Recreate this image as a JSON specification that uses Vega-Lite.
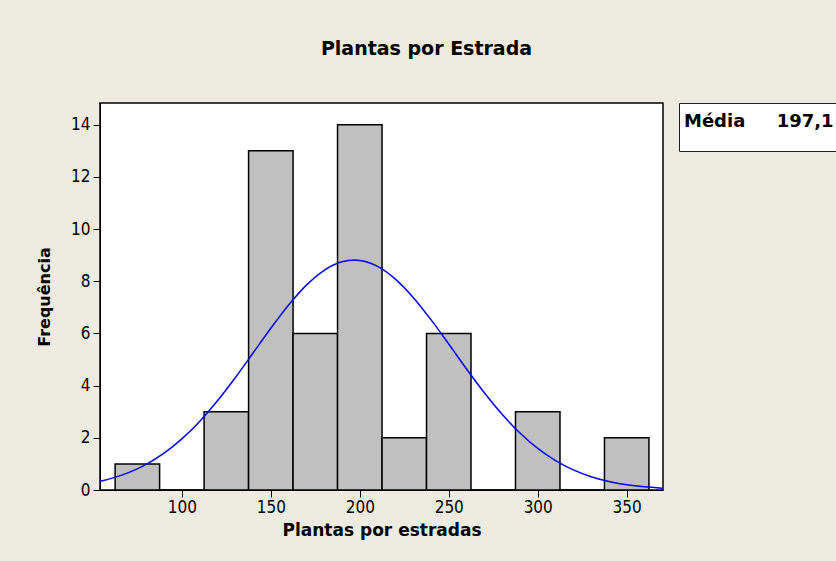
{
  "$schema": "https://vega.github.io/schema/vega-lite/v6.json",
  "width": 563,
  "height": 387,
  "autosize": {"type": "none"},
  "padding": {"left": 100, "top": 103, "right": 173, "bottom": 71},
  "background": "#EEEBE1",
  "title": {
    "text": "Plantas por Estrada",
    "font": "DejaVu Sans",
    "fontSize": 19,
    "fontWeight": "bold",
    "color": "#000000",
    "anchor": "middle",
    "frame": "group",
    "dx": 45,
    "baseline": "alphabetic",
    "offset": 29
  },
  "config": {
    "view": {"stroke": "#000000", "strokeWidth": 1.5, "fill": "#FFFFFF"},
    "axis": {
      "grid": false,
      "domainColor": "#000000",
      "tickColor": "#000000",
      "tickSize": 7,
      "labelColor": "#000000",
      "labelFont": "DejaVu Sans Condensed, DejaVu Sans",
      "labelFontSize": 17,
      "titleColor": "#000000",
      "titleFont": "DejaVu Sans",
      "titleFontWeight": "bold"
    }
  },
  "datasets": {
    "bins": [
      {"lo": 62.5, "hi": 87.5, "count": 1},
      {"lo": 87.5, "hi": 112.5, "count": 0},
      {"lo": 112.5, "hi": 137.5, "count": 3},
      {"lo": 137.5, "hi": 162.5, "count": 13},
      {"lo": 162.5, "hi": 187.5, "count": 6},
      {"lo": 187.5, "hi": 212.5, "count": 14},
      {"lo": 212.5, "hi": 237.5, "count": 2},
      {"lo": 237.5, "hi": 262.5, "count": 6},
      {"lo": 262.5, "hi": 287.5, "count": 0},
      {"lo": 287.5, "hi": 312.5, "count": 3},
      {"lo": 312.5, "hi": 337.5, "count": 0},
      {"lo": 337.5, "hi": 362.5, "count": 2}
    ],
    "curve": [
      {"x": 54, "f": 0.333},
      {"x": 60, "f": 0.436},
      {"x": 70, "f": 0.666},
      {"x": 80, "f": 0.985},
      {"x": 90, "f": 1.411},
      {"x": 100, "f": 1.957},
      {"x": 110, "f": 2.628},
      {"x": 120, "f": 3.418},
      {"x": 130, "f": 4.303},
      {"x": 140, "f": 5.248},
      {"x": 150, "f": 6.198},
      {"x": 160, "f": 7.089},
      {"x": 170, "f": 7.851},
      {"x": 180, "f": 8.42},
      {"x": 190, "f": 8.745},
      {"x": 197, "f": 8.81},
      {"x": 200, "f": 8.796},
      {"x": 210, "f": 8.567},
      {"x": 220, "f": 8.081},
      {"x": 230, "f": 7.381},
      {"x": 240, "f": 6.528},
      {"x": 250, "f": 5.593},
      {"x": 260, "f": 4.639},
      {"x": 270, "f": 3.727},
      {"x": 280, "f": 2.899},
      {"x": 290, "f": 2.184},
      {"x": 300, "f": 1.593},
      {"x": 310, "f": 1.125},
      {"x": 320, "f": 0.77},
      {"x": 330, "f": 0.51},
      {"x": 340, "f": 0.327},
      {"x": 350, "f": 0.203},
      {"x": 360, "f": 0.122},
      {"x": 370, "f": 0.071}
    ]
  },
  "layer": [
    {
      "data": {"name": "bins"},
      "mark": {"type": "rect", "fill": "#C0C0C0", "stroke": "#000000", "strokeWidth": 1.5},
      "encoding": {
        "x": {
          "field": "lo",
          "type": "quantitative",
          "scale": {"domain": [54, 370.4], "nice": false, "zero": false},
          "axis": {
            "values": [100, 150, 200, 250, 300, 350],
            "title": "Plantas por estradas",
            "titleFontSize": 17,
            "titlePadding": 7,
            "labelPadding": 2
          }
        },
        "x2": {"field": "hi"},
        "y": {
          "field": "count",
          "type": "quantitative",
          "scale": {"domain": [0, 14.83], "nice": false},
          "axis": {
            "values": [0, 2, 4, 6, 8, 10, 12, 14],
            "title": "Frequência",
            "titleFontSize": 16,
            "titlePadding": 18,
            "labelPadding": 3
          }
        },
        "y2": {"datum": 0}
      }
    },
    {
      "data": {"name": "curve"},
      "mark": {"type": "line", "strokeWidth": 1.5, "clip": true, "interpolate": "monotone"},
      "encoding": {
        "x": {"field": "x", "type": "quantitative", "scale": {"domain": [54, 370.4], "nice": false, "zero": false}},
        "y": {"field": "f", "type": "quantitative", "scale": {"domain": [0, 14.83], "nice": false}},
        "color": {
          "datum": "Média",
          "scale": {"range": ["#0000FF"]},
          "legend": {
            "orient": "right",
            "offset": 16,
            "title": null,
            "padding": 6,
            "fillColor": "#FFFFFF",
            "strokeColor": "#222222",
            "cornerRadius": 0,
            "symbolType": "circle",
            "symbolSize": 1296,
            "symbolOpacity": 0,
            "symbolStrokeWidth": 0,
            "labelOffset": -37,
            "labelExpr": "'Média\u00a0\u00a0\u00a0\u00a0\u00a0197,1\u00a0\u00a0\u00a0'",
            "labelFont": "DejaVu Sans",
            "labelFontSize": 18,
            "labelFontWeight": "bold",
            "labelColor": "#000000",
            "labelBaseline": "alphabetic",
            "labelLimit": 500
          }
        }
      }
    }
  ]
}
